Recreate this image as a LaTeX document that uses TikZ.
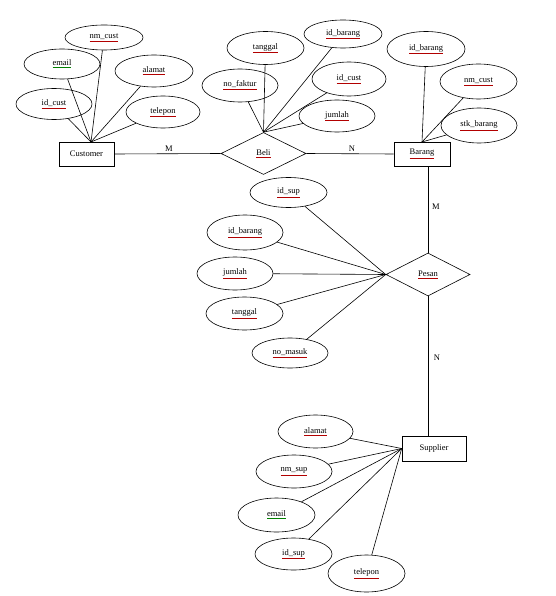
\documentclass[tikz,border=0pt]{standalone}
\usepackage{fontspec}
\setmainfont{Liberation Serif}
\usetikzlibrary{shapes.geometric}
\newcommand\sq[1]{\textcolor{red!70!black}{\underline{\textcolor{black}{#1}}}}
\newcommand\sqg[1]{\textcolor{green!50!black}{\underline{\textcolor{black}{#1}}}}
\begin{document}
\begin{tikzpicture}[x=1pt,y=-1pt,
  every node/.style={font=\fontsize{8.5}{10}\selectfont},
  attr/.style={draw,ellipse,line width=0.6pt,inner sep=0pt,minimum width=77pt,minimum height=33pt},
  ent/.style={draw,rectangle,line width=0.6pt,inner sep=0pt,minimum height=24pt},
  rel/.style={draw,diamond,line width=0.6pt,inner sep=0pt,minimum width=85pt,minimum height=42pt},
  conn/.style={line width=0.6pt},
  card/.style={inner sep=0pt}]
\useasboundingbox[fill=white] (0,0) rectangle (555,596);
% entities and relations
\node[ent,minimum width=55pt] (cust) at (86.5,154) {Customer};
\node[rel] (beli) at (263.5,153.5) {\sq{Beli}};
\node[ent,minimum width=56pt] (barang) at (422,154) {\sq{Barang}};
\node[rel,minimum width=84pt,minimum height=43pt] (pesan) at (428,274.5) {\sq{Pesan}};
\node[ent,minimum width=64pt,minimum height=25pt] (supp) at (434,448.5) {Supplier};
% hubs
\coordinate (hC) at (91,142);
\coordinate (hB) at (beli.north);
\coordinate (hG) at (422,142);
\coordinate (hP) at (pesan.west);
\coordinate (hS) at (supp.west);
% main connectors
\draw[conn] (cust.east) -- (beli.west);
\draw[conn] (beli.east) -- (barang.west);
\draw[conn] (pesan.north |- barang.south) -- (pesan.north);
\draw[conn] (pesan.south) -- (pesan.south |- supp.north);
\node[card] (m1) at (169,149) {M};
\node[card] (n1) at (352,148.5) {N};
\node[card] (m2) at (436,207) {M};
\node[card] (n2) at (437,358) {N};
% Customer attributes
\node[attr,minimum width=78pt,minimum height=25pt] (c1) at (104,37.5) {\sq{nm\_cust}};
\node[attr,minimum width=76pt,minimum height=30pt] (c2) at (62,64) {\sqg{email}};
\node[attr,minimum width=78pt,minimum height=32pt] (c3) at (154,71) {\sq{alamat}};
\node[attr,minimum width=76pt,minimum height=31pt] (c4) at (54,104) {\sq{id\_cust}};
\node[attr,minimum width=74pt,minimum height=32pt] (c5) at (163,112) {\sq{telepon}};
\foreach \n in {c1,c2,c3,c4,c5} \draw[conn] (hC) -- (\n);
% Beli attributes
\node[attr] (b1) at (265.5,48) {\sq{tanggal}};
\node[attr,minimum width=78pt,minimum height=28pt] (b2) at (343,34) {\sq{id\_barang}};
\node[attr,minimum width=76pt] (b3) at (240,85.5) {\sq{no\_faktur}};
\node[attr,minimum width=74pt,minimum height=34pt] (b4) at (349,79) {\sq{id\_cust}};
\node[attr,minimum width=76pt,minimum height=32pt] (b5) at (337,116) {\sq{jumlah}};
\foreach \n in {b1,b2,b3,b4,b5} \draw[conn] (hB) -- (\n);
% Barang attributes
\node[attr,minimum width=78pt,minimum height=35pt] (g1) at (426,49) {\sq{id\_barang}};
\node[attr,minimum height=35pt] (g2) at (478.5,81.5) {\sq{nm\_cust}};
\node[attr,minimum width=76pt,minimum height=35pt] (g3) at (479,125.5) {\sq{stk\_barang}};
\foreach \n in {g1,g2,g3} \draw[conn] (hG) -- (\n);
% Pesan attributes
\node[attr,minimum height=30pt] (p1) at (288.5,192.5) {\sq{id\_sup}};
\node[attr,minimum width=76pt,minimum height=35pt] (p2) at (245,232.5) {\sq{id\_barang}};
\node[attr,minimum width=76pt] (p3) at (235,273.5) {\sq{jumlah}};
\node[attr] (p4) at (244.5,313.5) {\sq{tanggal}};
\node[attr,minimum width=76pt,minimum height=30pt] (p5) at (290,353) {\sq{no\_masuk}};
\foreach \n in {p1,p2,p3,p4,p5} \draw[conn] (hP) -- (\n);
% Supplier attributes
\node[attr,minimum width=75pt] (s1) at (315.5,431.5) {\sq{alamat}};
\node[attr,minimum width=76pt] (s2) at (294,471.5) {\sq{nm\_sup}};
\node[attr,minimum height=34pt] (s3) at (276.5,515) {\sqg{email}};
\node[attr,minimum height=32pt] (s4) at (293.5,554) {\sq{id\_sup}};
\node[attr,minimum height=37pt] (s5) at (366.5,573.5) {\sq{telepon}};
\foreach \n in {s1,s2,s3,s4,s5} \draw[conn] (hS) -- (\n);
\end{tikzpicture}
\end{document}
